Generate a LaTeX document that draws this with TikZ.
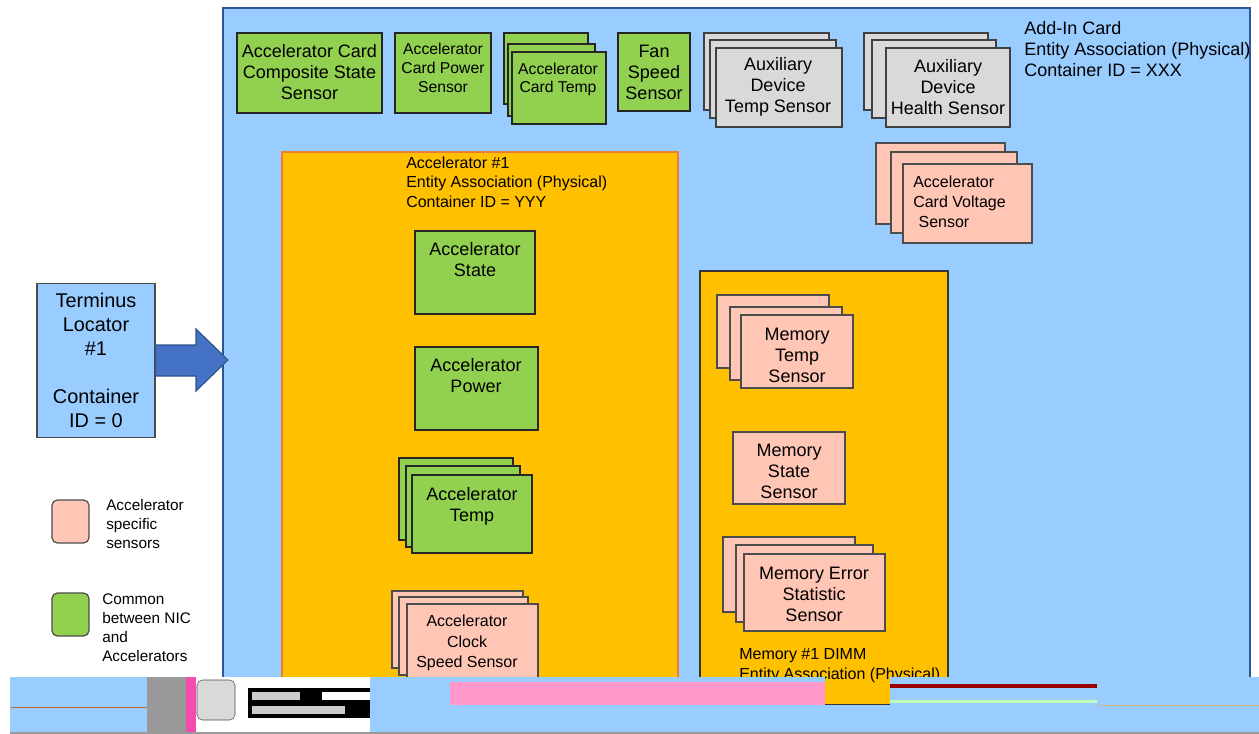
\documentclass[tikz,border=0pt]{standalone}
\usepackage{xcolor}
\usepackage{fontspec}
\setmainfont{Liberation Sans}
\usepackage{tikz}

\definecolor{cardblue}{HTML}{99CCFF}
\definecolor{cardedge}{HTML}{2F5597}
\definecolor{accorange}{HTML}{FFC000}
\definecolor{accedge}{HTML}{ED7D31}
\definecolor{commongreen}{HTML}{92D050}
\definecolor{specificpink}{HTML}{FFC5B5}
\definecolor{auxgray}{HTML}{D9D9D9}
\definecolor{arrowblue}{HTML}{4472C4}
\definecolor{glitchpink}{HTML}{FF99CC}

\begin{document}
\begin{tikzpicture}[x=0.75pt,y=-0.75pt,
		grn/.style={draw=black!85, fill=commongreen, line width=0.9pt},
		pnk/.style={draw=black!70, fill=specificpink, line width=0.9pt},
		gry/.style={draw=black!75, fill=auxgray, line width=0.9pt},
		txt/.style={font=\fontsize{13.5}{15.75}\selectfont, align=center, inner sep=0pt},
		smalltxt/.style={font=\fontsize{12}{14.6}\selectfont, align=center, inner sep=0pt},
		cardtxt/.style={font=\fontsize{11.8}{14.25}\selectfont, align=center, inner sep=0pt}
	]
		\useasboundingbox (0,0) rectangle (1259,734);
		
		% add-in card
		\draw [fill=cardblue, draw=cardedge, line width=1pt] (223,8) rectangle (1250,705);
		\node [txt, align=left, anchor=west] (cardlabel) at (1024,49.5) {Add-In Card\\Entity Association (Physical)\\Container ID = XXX};
		
		\draw[grn] (237,33) rectangle (382,113);
		\node [txt] (compstate) at (309.5,72) {Accelerator Card\\Composite State\\Sensor};
		
		\draw[grn] (395,33) rectangle (491,113);
		\node [cardtxt] (cardpower) at (443,68) {Accelerator\\Card Power\\Sensor};
		
		\draw[grn] (504,33) rectangle (588,104);
		\draw[grn] (508,44) rectangle (595,116);
		\draw[grn] (512,52) rectangle (606,124);
		\node [cardtxt, font=\fontsize{11.8}{13.5}\selectfont] (cardtemp) at (558,79) {Accelerator\\Card Temp};
		
		\draw[grn] (618,33) rectangle (690,111);
		\node [txt] (fan) at (654,72) {Fan\\Speed\\Sensor};
		
		\draw[gry] (704,33) rectangle (829,110);
		\draw[gry] (710,40) rectangle (836,118);
		\draw[gry] (716,48) rectangle (842,127);
		\node [txt] (auxtemp) at (778,87) {Auxiliary\\Device\\Temp Sensor};
		
		\draw[gry] (864,33) rectangle (988,110);
		\draw[gry] (872,40) rectangle (996,118);
		\draw[gry] (886,48) rectangle (1010,127);
		\node [txt] (auxhealth) at (948,87) {Auxiliary\\Device\\Health Sensor};
		
		\draw[pnk] (876,143) rectangle (1005,224);
		\draw[pnk] (891,152) rectangle (1017,233);
		\draw[pnk] (903,164) rectangle (1032,243);
		\node [smalltxt, align=left, anchor=west, font=\fontsize{12}{15}\selectfont] (voltage) at (913,202) {Accelerator\\Card Voltage\\\hspace{4pt}Sensor};
		
		% accelerator #1
		\draw [fill=accorange, draw=accedge, line width=0.8pt] (282,152) rectangle (678,705);
		\node [smalltxt, align=left, anchor=west] (acclabel) at (406,182) {Accelerator \#1\\Entity Association (Physical)\\Container ID = YYY};
		
		\draw[grn] (415,231) rectangle (535,314);
		\node [txt] (accstate) at (475,260) {Accelerator\\State};
		
		\draw[grn] (415,347) rectangle (538,430);
		\node [txt] (accpower) at (476,376) {Accelerator\\Power};
		
		\draw[grn] (399,458) rectangle (513,540);
		\draw[grn] (406,466) rectangle (520,547);
		\draw[grn] (412,475) rectangle (532,553);
		\node [txt] (acctemp) at (472,506) {Accelerator\\Temp};
		
		\draw[pnk] (392,591) rectangle (523,668);
		\draw[pnk] (399,597) rectangle (528,675);
		\draw[pnk] (407,604) rectangle (538,690);
		\node [smalltxt, font=\fontsize{12}{15.4}\selectfont] (clock) at (467,643) {Accelerator\\Clock\\Speed Sensor};
		
		% memory #1 dimm
		\draw [fill=accorange, draw=black!80, line width=0.8pt] (700,271) rectangle (948,705);
		\node [smalltxt, align=left, anchor=west, font=\fontsize{12}{15}\selectfont] (memlabel) at (739,666) {Memory \#1 DIMM\\Entity Association (Physical)};
		
		\draw[pnk] (717,295) rectangle (829,368);
		\draw[pnk] (730,307) rectangle (842,380);
		\draw[pnk] (741,315) rectangle (853,388);
		\node [txt] (memtemp) at (797,355) {Memory\\Temp\\Sensor};
		
		\draw[pnk] (733,432) rectangle (845,504);
		\node [txt] (memstate) at (789,471) {Memory\\State\\Sensor};
		
		\draw[pnk] (723,537) rectangle (855,612);
		\draw[pnk] (736,545) rectangle (873,622);
		\draw[pnk] (744,554) rectangle (885,631);
		\node [txt] (memerr) at (814,594) {Memory Error\\Statistic\\Sensor};
		
		% terminus locator and arrow
		\node [draw=black!70, fill=cardblue, line width=0.9pt, minimum width=88.5pt, minimum height=116pt,
			font=\fontsize{14.9}{18}\selectfont, align=center, inner sep=0pt] (term) at (96,360.5)
			{Terminus\\Locator\\\#1\\[18pt]Container\\ID = 0};
		\draw [fill=arrowblue, draw=arrowblue!70!black, line width=0.8pt]
			(term.east |- 0,345) -- (196,345) -- (196,329) -- (228,360) -- (196,391) -- (196,376) -- (term.east |- 0,376) -- cycle;
		
		% legend
		\draw[pnk, rounded corners=4pt] (52,500) rectangle (89,543);
		\node [smalltxt, align=left, anchor=west, font=\fontsize{11.5}{14.25}\selectfont] (legpink) at (106,524) {Accelerator\\specific\\sensors};
		\draw[grn, draw=black!70, rounded corners=4pt] (52,593) rectangle (89,636);
		\node [smalltxt, align=left, anchor=west, font=\fontsize{11.5}{14.25}\selectfont] (leggreen) at (102,627.5) {Common\\between NIC\\and\\Accelerators};
		
		% broken strip along the bottom
		\fill[cardblue] (10,677) rectangle (825,734);
		\fill[cardblue] (890,677) rectangle (1259,734);
		\fill[cardblue] (825,705) rectangle (890,734);
		\draw[accedge!80!black] (11,707) -- (147,707);
		\fill[black!40] (147,677) rectangle (186,734);
		\fill[magenta!70] (186,677) rectangle (196,734);
		\fill[white] (196,677) rectangle (370,734);
		\draw[fill=auxgray, draw=black!70, rounded corners=4pt] (197,680) rectangle (235,720);
		\fill[black] (248,688) rectangle (370,718);
		\fill[white] (322,692) rectangle (370,700);
		\fill[black!20] (252,692) rectangle (300,700);
		\fill[black!20] (252,706) rectangle (345,714);
		\fill[glitchpink] (450,682) rectangle (825,705);
		\fill[red!60!black] (890,684) rectangle (1097,688);
		\fill[green!25] (890,700) rectangle (1097,703);
		\draw[brown!60] (1097,705) -- (1259,705);
		\draw[black!40, line width=1pt] (10,733) -- (1259,733);
\end{tikzpicture}
\end{document}
